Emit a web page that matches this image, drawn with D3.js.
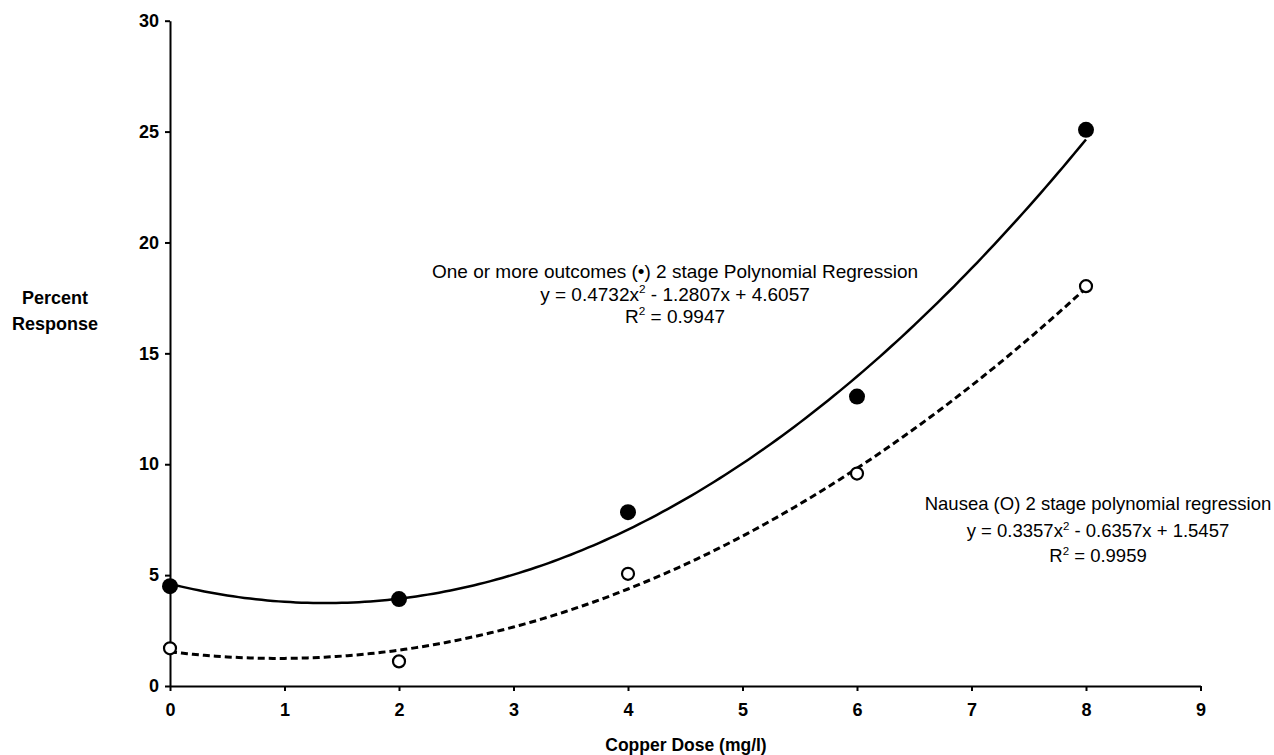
<!DOCTYPE html>
<html>
<head>
<meta charset="utf-8">
<script src="https://cdn.jsdelivr.net/npm/d3@7"></script>
<style>
  html, body { margin: 0; padding: 0; background: #fff; }
  svg { display: block; }
  text { font-family: Arial, "Liberation Sans", sans-serif; fill: #000; }
</style>
</head>
<body>
<svg id="chart" width="1274" height="755"></svg>
<script>
// ---- data ----
const doses = [0, 2, 4, 6, 8];
const anyOutcome = [4.5, 3.92, 7.84, 13.05, 25.08];   // filled circles
const nausea = [1.7, 1.11, 5.06, 9.58, 18.03];        // open circles
// regression coefficients printed on the chart [a, b, c] for a*x^2 + b*x + c
const anyOutcomeFit = [0.4732, -1.2807, 4.6057];
const nauseaFit = [0.3357, -0.6357, 1.5457];
const xTicks = [0, 1, 2, 3, 4, 5, 6, 7, 8, 9];
const yTicks = [0, 5, 10, 15, 20, 25, 30];
const anyOutcomeLabel = ["One or more outcomes (\u2022) 2 stage Polynomial Regression",
                         "y = 0.4732x|2| - 1.2807x + 4.6057", "R|2| = 0.9947"];
const nauseaLabel = ["Nausea (O) 2 stage polynomial regression",
                     "y = 0.3357x|2| - 0.6357x + 1.5457", "R|2| = 0.9959"];

// ---- layout ----
const svg = d3.select("#chart");
const x = d3.scaleLinear().domain([0, 9]).range([170, 1200.5]);
const y = d3.scaleLinear().domain([0, 30]).range([686, 20.7]);

// axes
const xAxis = svg.append("g").attr("transform", `translate(0,${y(0)})`)
  .call(d3.axisBottom(x).tickValues(xTicks).tickFormat(d3.format("d")).tickSize(5).tickPadding(12).tickSizeOuter(0));
const yAxis = svg.append("g").attr("transform", `translate(${x(0)},0)`)
  .call(d3.axisLeft(y).tickValues(yTicks).tickFormat(d3.format("d")).tickSize(5).tickPadding(6).tickSizeOuter(0));
[xAxis, yAxis].forEach(g => {
  g.select(".domain").attr("stroke", "#000").attr("stroke-width", 2);
  g.selectAll(".tick line").attr("stroke", "#000").attr("stroke-width", 2);
  g.selectAll(".tick text").attr("font-size", 18).attr("font-weight", "bold")
    .attr("font-family", "Arial, 'Liberation Sans', sans-serif").attr("fill", "#000");
});

// fitted curves
const fitX = d3.range(0, 8.0001, 0.05);
const poly = c => v => c[0] * v * v + c[1] * v + c[2];
const line = d3.line().x(d => x(d[0])).y(d => y(d[1])).curve(d3.curveLinear);
svg.append("path").datum(fitX.map(v => [v, poly(anyOutcomeFit)(v)]))
  .attr("d", line).attr("fill", "none").attr("stroke", "#000").attr("stroke-width", 2.5);
svg.append("path").datum(fitX.map(v => [v, poly(nauseaFit)(v)]))
  .attr("d", line).attr("fill", "none").attr("stroke", "#000").attr("stroke-width", 3)
  .attr("stroke-dasharray", "7,4");

// points
svg.append("g").selectAll("circle").data(doses).join("circle")
  .attr("cx", (d) => x(d)).attr("cy", (d, i) => y(anyOutcome[i])).attr("r", 8).attr("fill", "#000");
svg.append("g").selectAll("circle").data(doses).join("circle")
  .attr("cx", (d) => x(d)).attr("cy", (d, i) => y(nausea[i])).attr("r", 6)
  .attr("fill", "#fff").attr("stroke", "#000").attr("stroke-width", 2.2);

// annotation helper: "|2|" marks a superscript
function annotate(lines, cx, baselines, size) {
  lines.forEach((s, i) => {
    const t = svg.append("text").attr("x", cx).attr("y", baselines[i])
      .attr("text-anchor", "middle").attr("font-size", size);
    s.split("|").forEach((part, j) => {
      if (j % 2 === 1) {
        t.append("tspan").text(part).attr("font-size", size * 0.62).attr("dy", -size * 0.4);
      } else if (j > 0) {
        t.append("tspan").text(part).attr("dy", size * 0.4);
      } else {
        t.append("tspan").text(part);
      }
    });
  });
}
annotate(anyOutcomeLabel, 675, [278, 301, 323], 19);
annotate(nauseaLabel, 1098, [510, 537, 562], 18.5);

// axis titles
svg.append("text").attr("x", 55).attr("y", 303.5).attr("text-anchor", "middle")
  .attr("font-size", 18).attr("font-weight", "bold").text("Percent");
svg.append("text").attr("x", 55).attr("y", 329.5).attr("text-anchor", "middle")
  .attr("font-size", 18).attr("font-weight", "bold").text("Response");
svg.append("text").attr("x", 686).attr("y", 751).attr("text-anchor", "middle")
  .attr("font-size", 17.5).attr("font-weight", "bold").text("Copper Dose (mg/l)");
</script>
</body>
</html>
